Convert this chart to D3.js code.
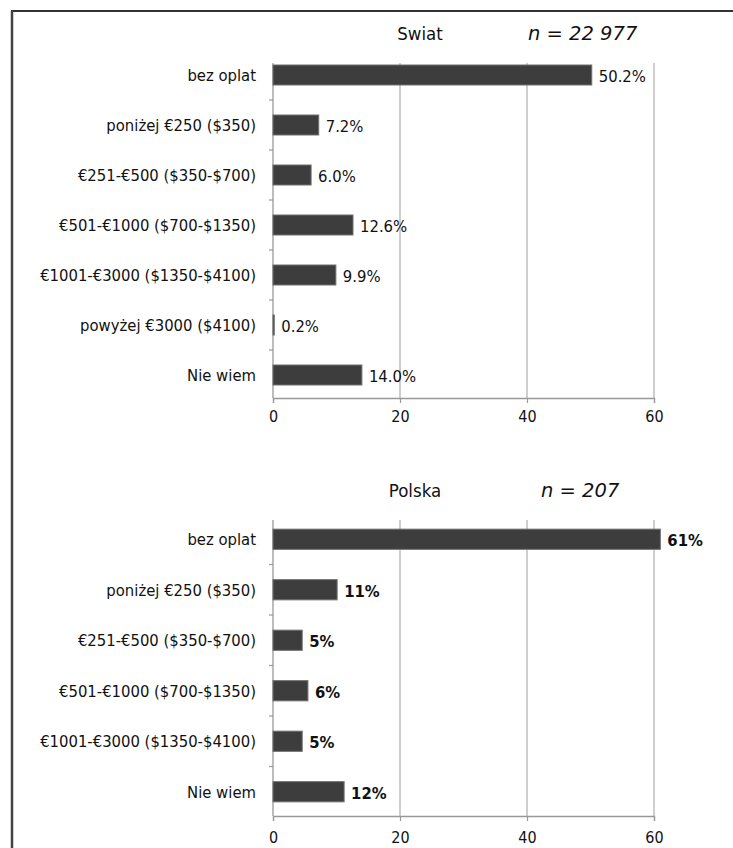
<!DOCTYPE html>
<html><head><meta charset="utf-8">
<script src="https://cdn.jsdelivr.net/npm/d3@7"></script>
<style>body{margin:0;background:#fff}svg{display:block}</style>
</head><body>
<script>
const worldCategories = ["bez oplat","poniżej €250 ($350)","€251-€500 ($350-$700)","€501-€1000 ($700-$1350)","€1001-€3000 ($1350-$4100)","powyżej  €3000 ($4100)","Nie wiem"];
const worldValues = [50.2, 7.2, 6.0, 12.6, 9.9, 0.2, 14.0];
const worldLabels = ["50.2%","7.2%","6.0%","12.6%","9.9%","0.2%","14.0%"];
const polandCategories = ["bez oplat","poniżej €250 ($350)","€251-€500 ($350-$700)","€501-€1000 ($700-$1350)","€1001-€3000 ($1350-$4100)","Nie wiem"];
const polandValues = [61, 10.1, 4.6, 5.5, 4.6, 11.2];
const polandLabels = ["61%","11%","5%","6%","5%","12%"];
const xTicks = [0, 20, 40, 60];
const titles = ["Swiat", "Polska"];
const nLabels = ["n = 22 977", "n = 207"];

const W = 733, H = 848;
const svg = d3.select("body").append("svg").attr("width", W).attr("height", H);

// frame
svg.append("line").attr("x1",11).attr("x2",W).attr("y1",11).attr("y2",11).attr("stroke","#333").attr("stroke-width",2);
svg.append("line").attr("x1",12).attr("x2",12).attr("y1",11).attr("y2",H).attr("stroke","#444").attr("stroke-width",2.5);

const x = d3.scaleLinear().domain([0,60]).range([273,654]);
const labelFont = "'DejaVu Sans Condensed','DejaVu Sans',sans-serif";
const textColor = "#111";

function panel(cfg){
  const g = svg.append("g");
  const y = d3.scaleBand().domain(cfg.cats).range(cfg.range).paddingInner(0.6).paddingOuter(0.3);
  // gridlines
  g.selectAll(".grid").data(xTicks.slice(1)).join("line")
    .attr("x1",d=>x(d)).attr("x2",d=>x(d)).attr("y1",cfg.gridTop).attr("y2",cfg.axisY)
    .attr("stroke","#b4b4b4").attr("stroke-width",1.3);
  // vertical axis
  g.append("line").attr("x1",x(0)).attr("x2",x(0)).attr("y1",cfg.gridTop).attr("y2",cfg.axisY)
    .attr("stroke","#999").attr("stroke-width",1.3);
  // category ticks
  const bounds = cfg.cats.slice(1).map(c => y(c) - y.step()*y.paddingInner()/2);
  g.selectAll(".ct").data(bounds).join("line")
    .attr("x1",x(0)-4).attr("x2",x(0)).attr("y1",d=>d).attr("y2",d=>d)
    .attr("stroke","#999").attr("stroke-width",1.2);
  // x axis
  const ax = g.append("g").attr("transform",`translate(0,${cfg.axisY})`)
    .call(d3.axisBottom(x).tickValues(xTicks).tickSize(5).tickFormat(d3.format("d")).tickPadding(cfg.tickPad));
  ax.select(".domain").attr("stroke","#999").attr("stroke-width",1.3);
  ax.selectAll(".tick line").attr("stroke","#999").attr("stroke-width",1.2);
  ax.selectAll("text").attr("font-family",labelFont).attr("font-size",16).attr("fill",textColor);
  // bars
  g.selectAll(".bar").data(cfg.vals).join("rect")
    .attr("x",x(0)).attr("y",(d,i)=>y(cfg.cats[i]))
    .attr("width",d=>x(d)-x(0)).attr("height",y.bandwidth())
    .attr("fill","#3d3d3d").attr("stroke","#707070").attr("stroke-width",1);
  // value labels
  g.selectAll(".vl").data(cfg.vals).join("text")
    .attr("x",d=>x(d)+7).attr("y",(d,i)=>y(cfg.cats[i])+y.bandwidth()/2+1)
    .attr("dy","0.35em").text((d,i)=>cfg.labels[i])
    .attr("font-family",labelFont).attr("font-size",16.5).attr("font-weight",cfg.valWeight).attr("fill",textColor);
  // category labels
  g.selectAll(".cl").data(cfg.cats).join("text")
    .attr("x",256).attr("y",d=>y(d)+y.bandwidth()/2)
    .attr("dy","0.35em").attr("text-anchor","end").text(d=>d)
    .attr("font-family",labelFont).attr("font-size",16.5).attr("fill",textColor);
  // titles
  g.append("text").attr("x",cfg.titleX).attr("y",cfg.titleY).attr("text-anchor","middle")
    .text(cfg.title).attr("font-family",labelFont).attr("font-size",18.5).attr("fill",textColor);
  g.append("text").attr("x",cfg.nX).attr("y",cfg.titleY).text(cfg.n)
    .attr("font-family","'DejaVu Sans',sans-serif").attr("font-style","italic").attr("font-size",19.5).attr("fill",textColor);
}

panel({cats:worldCategories, vals:worldValues, labels:worldLabels, range:[50,400], gridTop:63, axisY:398,
  title:titles[0], n:nLabels[0], titleX:420, titleY:40, nX:528, valWeight:"normal", tickPad:8});
panel({cats:polandCategories, vals:polandValues, labels:polandLabels, range:[514,817], gridTop:520, axisY:816,
  title:titles[1], n:nLabels[1], titleX:415, titleY:497, nX:541, valWeight:"bold", tickPad:11});
</script>
</body></html>
